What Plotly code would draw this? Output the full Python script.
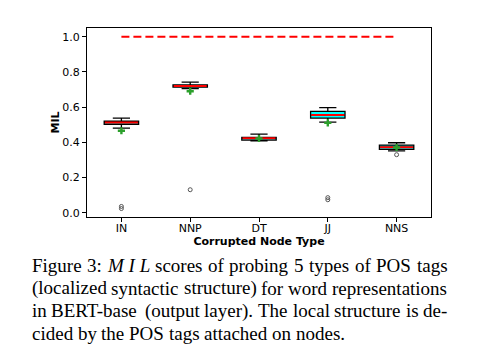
import plotly.graph_objects as go

categories = ["IN", "NNP", "DT", "JJ", "NNS"]
q1 = [0.502, 0.714, 0.413, 0.538, 0.360]
median = [0.513, 0.720, 0.424, 0.555, 0.373]
q3 = [0.521, 0.727, 0.428, 0.576, 0.385]
lower_whisker = [0.481, 0.705, 0.409, 0.515, 0.352]
upper_whisker = [0.538, 0.743, 0.447, 0.597, 0.398]
means = [0.466, 0.691, 0.422, 0.511, 0.371]
outlier_cat = [0, 0, 1, 3, 3, 4]
outlier_val = [0.036, 0.024, 0.131, 0.086, 0.074, 0.330]
reference_level = 1.0
y_ticks = [0.0, 0.2, 0.4, 0.6, 0.8, 1.0]

caption_lines = [
    "Figure 3: <i>M I L</i> scores of probing 5 types of POS tags",
    "(localized syntactic structure) for word representations",
    "in BERT-base (output layer). The local structure is de-",
    "cided by the POS tags attached on nodes.",
]
caption_justified = [True, True, True, False]

xs = list(range(len(categories)))
W = 478
H = 355
L, R, T, B = 87, 431, 28, 217
half = 0.25

fig = go.Figure()

fig.add_trace(go.Box(
    x=xs, q1=q1, median=median, q3=q3,
    lowerfence=lower_whisker, upperfence=upper_whisker,
    width=0.5, whiskerwidth=0.5, boxpoints=False,
    fillcolor="#00FFFF", line=dict(color="black", width=1.3),
    showlegend=False, hoverinfo="skip",
))

mx, my = [], []
for i, m in zip(xs, median):
    mx += [i - half + 0.01, i + half - 0.01, None]
    my += [m, m, None]
fig.add_trace(go.Scatter(x=mx, y=my, mode="lines",
                         line=dict(color="red", width=2), showlegend=False))

fig.add_trace(go.Scatter(x=xs, y=means, mode="markers",
                         marker=dict(symbol="cross", size=6, color="#2ca02c",
                                     line=dict(width=0)),
                         showlegend=False))

fig.add_trace(go.Scatter(x=outlier_cat, y=outlier_val, mode="markers",
                         marker=dict(symbol="circle-open", size=4, color="#555555",
                                     line=dict(width=1)),
                         showlegend=False))

fig.add_trace(go.Scatter(x=[xs[0], xs[-1]], y=[reference_level, reference_level],
                         mode="lines",
                         line=dict(color="red", width=2, dash="8px,4px"),
                         showlegend=False))

axis_font = dict(family="DejaVu Sans", size=11, color="black")

fig.update_xaxes(
    range=[-0.5, 4.5], tickvals=xs, ticktext=categories, automargin=False,
    showline=True, linecolor="black", linewidth=1.2, mirror=True,
    ticks="outside", ticklen=4, tickcolor="black", showgrid=False, zeroline=False,
    tickfont=axis_font, ticklabelstandoff=-3,
    title=dict(text="<b>Corrupted Node Type</b>", font=axis_font, standoff=0),
)
fig.update_yaxes(
    range=[-0.024, 1.05], tickvals=y_ticks, ticktext=[f"{v:.1f}" for v in y_ticks],
    automargin=False,
    showline=True, linecolor="black", linewidth=1.2, mirror=True,
    ticks="outside", ticklen=4, tickcolor="black", showgrid=False, zeroline=False,
    tickfont=axis_font,
    title=dict(text="<b>MIL</b>", font=axis_font, standoff=0),
)

# Times / Liberation Serif advance widths (1/1000 em) for caption justification
TIMES = {
    " ": 250, "a": 444, "b": 500, "c": 444, "d": 500, "e": 444, "f": 333, "g": 500,
    "h": 500, "i": 278, "j": 278, "k": 500, "l": 278, "m": 778, "n": 500, "o": 500,
    "p": 500, "q": 500, "r": 333, "s": 389, "t": 278, "u": 500, "v": 500, "w": 722,
    "x": 500, "y": 500, "z": 444, "B": 667, "E": 611, "F": 556, "L": 611, "M": 889,
    "O": 722, "P": 556, "R": 667, "S": 556, "T": 611, "I": 333, "(": 333, ")": 333,
    ":": 278, ".": 250, "-": 333, "0": 500, "1": 500, "2": 500, "3": 500, "4": 500,
    "5": 500,
}
ITALIC = {"M": 833, "I": 333, "L": 556, " ": 250}


def word_width(word, size):
    if word.startswith("<i>"):
        inner = word[3:-4]
        return sum(ITALIC.get(c, 500) for c in inner) * size / 1000.0
    return sum(TIMES.get(c, 500) for c in word) * size / 1000.0


def split_words(line):
    out, buf = [], ""
    i = 0
    while i < len(line):
        if line.startswith("<i>", i):
            j = line.index("</i>", i) + 4
            if buf:
                out.append(buf)
                buf = ""
            out.append(line[i:j])
            i = j
            continue
        c = line[i]
        if c == " ":
            if buf:
                out.append(buf)
            buf = ""
        else:
            buf += c
        i += 1
    if buf:
        out.append(buf)
    return out


cap_size = 19
cap_left, cap_right = 31.7, 447.3
baselines = [271.7, 294.2, 316.7, 339.2]
cap_font = dict(family="Liberation Serif", size=cap_size, color="black")
pw = R - L
ph = B - T
annotations = []
for line, just, bl in zip(caption_lines, caption_justified, baselines):
    words = split_words(line)
    widths = [word_width(w, cap_size) for w in words]
    if just and len(words) > 1:
        gap = (cap_right - cap_left - sum(widths)) / (len(words) - 1)
    else:
        gap = TIMES[" "] * cap_size / 1000.0
    xpos = cap_left
    cy = bl - 6.0
    for w, wd in zip(words, widths):
        annotations.append(dict(
            text=w, xref="paper", yref="paper",
            x=(xpos - L) / pw, y=(B - cy) / ph,
            xanchor="left", yanchor="middle", showarrow=False, font=cap_font,
            borderpad=0, borderwidth=0,
        ))
        xpos += wd + gap

fig.update_layout(
    width=W, height=H,
    margin=dict(l=L, r=W - R, t=T, b=H - B, autoexpand=False),
    paper_bgcolor="white", plot_bgcolor="white",
    annotations=annotations,
)

fig.write_html("out.html", config={"displayModeBar": False},
               post_script="document.body.style.margin='0px';")
